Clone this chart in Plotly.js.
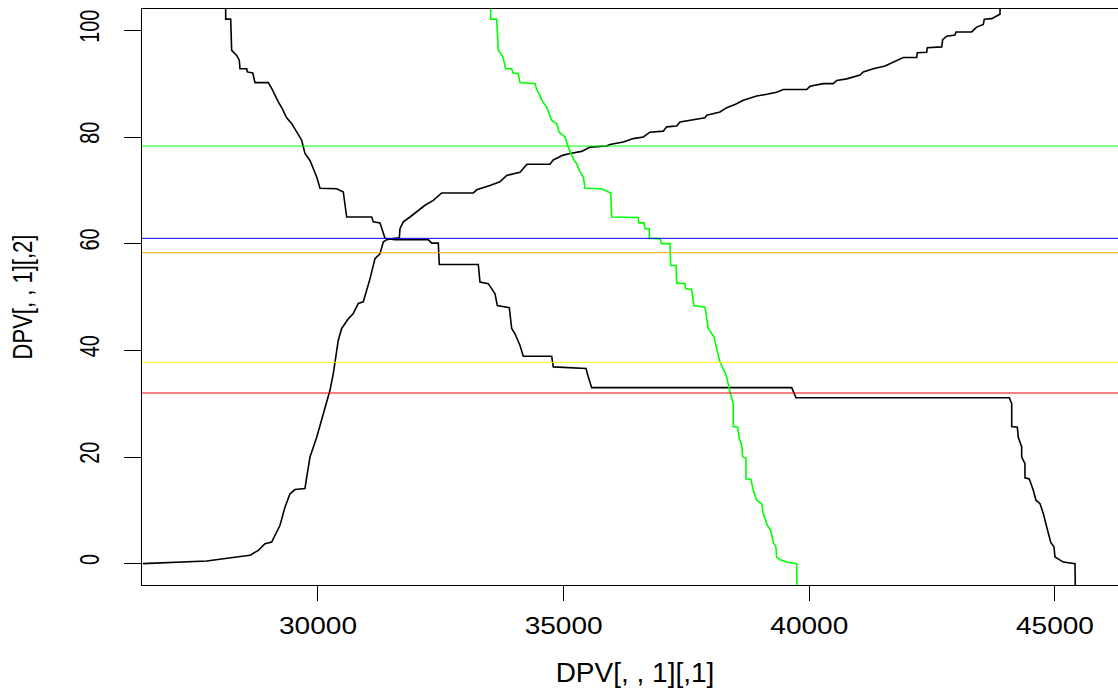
<!DOCTYPE html>
<html>
<head>
<meta charset="utf-8">
<script src="https://cdn.plot.ly/plotly-3.0.1.min.js"></script>
<style>
  html, body { margin: 0; padding: 0; background: #ffffff; overflow: hidden; }
  #chart { width: 1160px; height: 693px; }
</style>
</head>
<body>
<div id="chart"></div>
<script>
// Rising cumulative curve
const risingX = [26432, 27735, 28345, 28616, 28785, 28921, 29058, 29125, 29227, 29328, 29430, 29532, 29735, 29770, 29837, 29974, 30075, 30177, 30244, 30311, 30413, 30482, 30617, 30718, 30820, 30922, 30991, 31058, 31160, 31262, 31329, 31398, 31567, 31655, 31669, 31736, 31873, 32076, 32178, 32347, 32518, 33161, 33230, 33501, 33704, 33841, 34112, 34254, 34722, 34789, 34993, 35129, 35367, 35536, 35876, 35943, 36214, 36418, 36621, 36758, 37028, 37097, 37301, 37368, 37639, 37877, 37912, 38182, 38319, 38488, 38657, 38929, 39133, 39336, 39471, 39947, 40014, 40285, 40488, 40558, 40761, 41032, 41099, 41303, 41541, 41642, 41811, 41913, 42186, 42198, 42389, 42402, 42695, 42715, 42796, 42965, 42986, 43305, 43407, 43542, 43562, 43712, 43881, 43896];
const risingY = [0, 0.5, 1.25, 1.56, 2.5, 3.75, 4.05, 5.3, 7.2, 10.6, 13.1, 13.9, 14.1, 16.2, 20, 23.7, 26.9, 30, 32.5, 35.6, 41.9, 44.1, 45.9, 46.9, 48.8, 49.1, 51.2, 53.4, 57.2, 58.1, 60.3, 60.75, 61, 61.1, 62.8, 64.1, 65, 66.4, 67.2, 68.1, 69.5, 69.5, 70.1, 70.9, 71.6, 72.8, 73.4, 74.9, 74.9, 75.7, 76.6, 76.9, 77.3, 78.1, 78.3, 78.6, 79.05, 79.7, 80, 80.9, 81.1, 81.9, 82.05, 82.8, 83.3, 83.6, 84.1, 84.7, 85.5, 86.1, 86.9, 87.7, 88, 88.4, 88.9, 88.9, 89.5, 90, 90, 90.6, 90.9, 91.6, 92.2, 92.8, 93.3, 93.75, 94.4, 94.9, 94.9, 95.8, 95.9, 96.75, 96.9, 98.25, 98.9, 99.1, 99.7, 99.7, 100.6, 101.1, 102.1, 102.2, 103, 110];

// Falling curve (black)
const fallingX = [28121, 28121, 28223, 28243, 28345, 28398, 28412, 28549, 28561, 28671, 28718, 28988, 29058, 29125, 29192, 29261, 29363, 29465, 29566, 29668, 29735, 29837, 29904, 29974, 30041, 30381, 30515, 30584, 31093, 31126, 31262, 31364, 31567, 32245, 32314, 32449, 32469, 33263, 33297, 33466, 33603, 33650, 33894, 33943, 34010, 34112, 34179, 34757, 34789, 35455, 35502, 35571, 39642, 39729, 44071, 44120, 44120, 44234, 44254, 44323, 44323, 44390, 44390, 44478, 44559, 44614, 44696, 44763, 44832, 44913, 44981, 45001, 45170, 45408, 45422];
const fallingY = [110, 102.1, 102.1, 96.25, 95.3, 94.4, 92.8, 92.8, 92.2, 92, 90.2, 90.2, 89.1, 87.8, 86.6, 85.5, 83.6, 82.5, 80.9, 79.4, 76.9, 75.6, 74.1, 72.5, 70.4, 70.3, 69.7, 65, 65, 64.1, 63.9, 61, 60.75, 60.75, 60.1, 60.1, 56.1, 56.1, 52.8, 52.5, 50.6, 48.4, 48, 44.1, 43.1, 40.9, 38.9, 38.9, 36.9, 36.6, 35, 33, 33, 31.1, 31.1, 30, 25.7, 25.6, 23.7, 21.9, 20, 18.75, 16.1, 15.9, 13.75, 11.9, 11.25, 9.4, 6.9, 4.05, 3.1, 1.25, 0.3, 0, -10];

// Falling curve (green)
const greenX = [33515, 33515, 33637, 33670, 33765, 33820, 33943, 33969, 34077, 34112, 34417, 34451, 34519, 34553, 34655, 34722, 34757, 34858, 34911, 35027, 35095, 35196, 35266, 35319, 35400, 35435, 35774, 35958, 35978, 36519, 36534, 36635, 36656, 36743, 36743, 36961, 36996, 37165, 37179, 37287, 37301, 37470, 37484, 37606, 37653, 37877, 37944, 38060, 38115, 38182, 38264, 38319, 38386, 38453, 38453, 38543, 38569, 38624, 38644, 38712, 38712, 38813, 38860, 38929, 39031, 39064, 39145, 39214, 39267, 39322, 39336, 39404, 39540, 39743, 39757];
const greenY = [110, 102.1, 102.1, 96.25, 95, 92.8, 92.8, 92, 91.9, 90.2, 90, 88.9, 87.8, 86.9, 85.6, 84.1, 83.1, 82.5, 80.9, 80, 78.1, 75.9, 75, 73.75, 72.5, 70.4, 70.3, 69.5, 65, 64.9, 63.9, 63.9, 62.8, 62.8, 61, 60.9, 60, 60, 55.9, 55.9, 52.6, 52.5, 51.6, 51.4, 48.4, 48.1, 44.1, 42.5, 40.6, 37.8, 36.25, 35, 32.2, 30, 25.7, 25.6, 23.7, 22.2, 20, 19.8, 15.9, 15.8, 13.75, 11.9, 11.25, 9.4, 7.2, 6.25, 4.05, 3.1, 1.25, 0.75, 0.3, 0, -10];

// Reference levels drawn as horizontal lines
const levelValues = [78.3, 61.0, 58.3, 37.75, 32.0];
const levelColors = ['#00FF00', '#0000FF', '#FFA500', '#FFFF00', '#FF0000'];

// Axis ticks
const xTicks = [30000, 35000, 40000, 45000];
const yTicks = [0, 20, 40, 60, 80, 100];

const traces = [
  { x: risingX, y: risingY, mode: 'lines', line: { color: '#000000', width: 1.6 }, hoverinfo: 'skip' },
  { x: fallingX, y: fallingY, mode: 'lines', line: { color: '#000000', width: 1.6 }, hoverinfo: 'skip' },
  { x: greenX, y: greenY, mode: 'lines', line: { color: '#00FF00', width: 1.6 }, hoverinfo: 'skip' }
];

const shapes = levelValues.map((v, i) => ({
  type: 'line', xref: 'paper', x0: 0, x1: 1, yref: 'y', y0: v, y1: v,
  line: { color: levelColors[i], width: 1 }
}));

const sans = 'Liberation Sans, Arial, sans-serif';

const layout = {
  width: 1160,
  height: 693,
  margin: { l: 142, r: 32, t: 9, b: 108 },
  paper_bgcolor: '#ffffff',
  plot_bgcolor: '#ffffff',
  showlegend: false,
  shapes: shapes,
  xaxis: {
    range: [26418, 46487],
    tickmode: 'array',
    tickvals: xTicks,
    ticktext: xTicks.map(String),
    ticks: 'outside', ticklen: 15, tickwidth: 1, tickcolor: '#000000',
    ticklabelstandoff: 4,
    showline: true, linecolor: '#000000', linewidth: 1, mirror: true,
    showgrid: false, zeroline: false,
    tickfont: { family: sans, size: 24, color: '#000000' },
    title: { text: 'DPV[, , 1][,1]', font: { family: sans, size: 28, color: '#000000' }, standoff: 24 }
  },
  yaxis: {
    range: [-4, 104],
    tickmode: 'array',
    tickvals: yTicks,
    ticktext: yTicks.map(String),
    tickangle: -90,
    ticks: 'outside', ticklen: 17, tickwidth: 1, tickcolor: '#000000',
    ticklabelstandoff: 14,
    showline: true, linecolor: '#000000', linewidth: 1, mirror: true,
    showgrid: false, zeroline: false,
    tickfont: { family: sans, size: 28, color: '#000000' },
    title: { text: 'DPV[, , 1][,2]', font: { family: sans, size: 28, color: '#000000' }, standoff: 32 }
  }
};

// Set the run length of each label (narrow lettering on the y axis,
// slightly wide digits on the x axis), keeping it centred where it was.
function fitText(selector, targetFor) {
  document.querySelectorAll(selector).forEach(el => {
    const text = el.textContent || '';
    if (!text.length) return;
    const b0 = el.getBoundingClientRect();
    el.setAttribute('textLength', targetFor(text).toFixed(2));
    el.setAttribute('lengthAdjust', 'spacingAndGlyphs');
    const b1 = el.getBoundingClientRect();
    const dx = (b0.left + b0.width / 2) - (b1.left + b1.width / 2);
    const dy = (b0.top + b0.height / 2) - (b1.top + b1.height / 2);
    if (Math.abs(dx) > 0.2 || Math.abs(dy) > 0.2) {
      const t = el.getAttribute('transform') || '';
      el.setAttribute('transform', 'translate(' + dx.toFixed(2) + ',' + dy.toFixed(2) + ') ' + t);
    }
  });
}

Plotly.newPlot('chart', traces, layout, { staticPlot: true, displayModeBar: false }).then(() => {
  fitText('.ytick text', s => s.length * 11);
  fitText('.g-ytitle text', () => 125);
  fitText('.xtick text', s => s.length * 15.6);
});
</script>
</body>
</html>
